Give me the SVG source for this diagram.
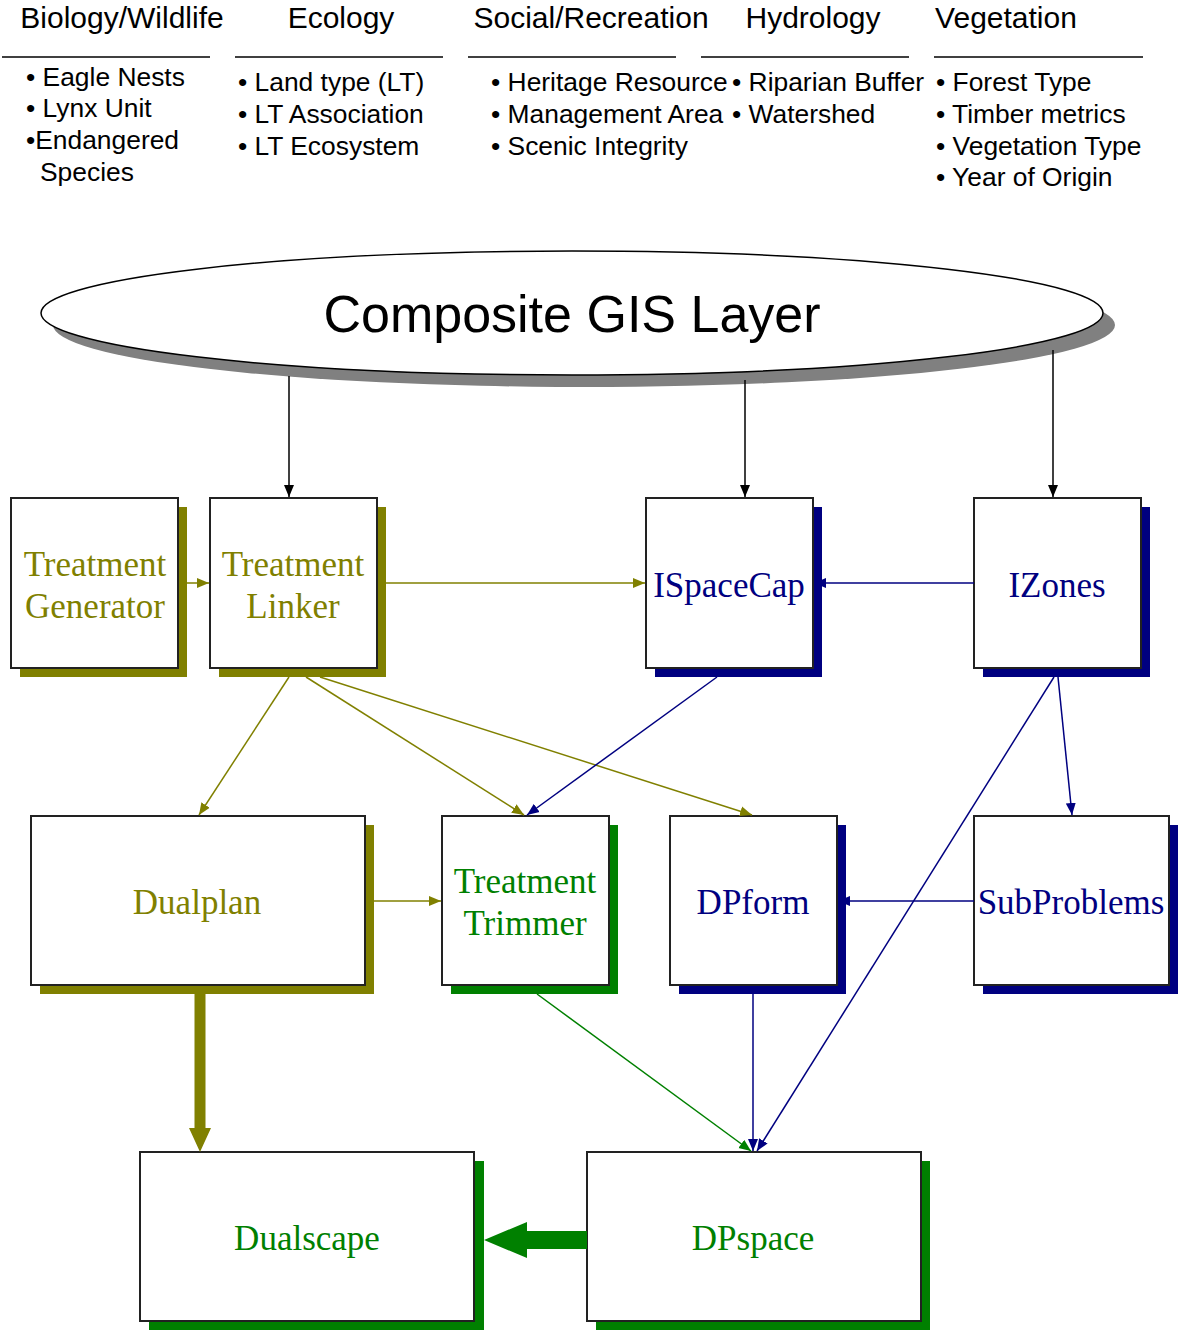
<svg xmlns="http://www.w3.org/2000/svg" width="1181" height="1333" viewBox="0 0 1181 1333">
<defs>
<style>
.hdr{font-family:"Liberation Sans",Arial,sans-serif;font-size:30px;fill:#000;text-anchor:middle}
.item{font-family:"Liberation Sans",Arial,sans-serif;font-size:26.4px;fill:#000}
.rule{stroke:#000;stroke-width:1.5}
.box{fill:#fff;stroke:#222;stroke-width:2}
.lbl{font-family:"Liberation Serif","Times New Roman",serif;font-size:35px;text-anchor:middle}
.olive{fill:#808000}
.navy{fill:#000080}
.green{fill:#008000}
.c{fill:none;stroke-width:1.5}
.ck{stroke:#000}
.co{stroke:#808000}
.cn{stroke:#000080}
.cg{stroke:#008000}
</style>
<marker id="ak" viewBox="0 0 12 10" refX="12" refY="5" markerWidth="12" markerHeight="11" markerUnits="userSpaceOnUse" orient="auto"><path d="M0,0 L12,5 L0,10 z" fill="#000"/></marker>
<marker id="ao" viewBox="0 0 12 10" refX="12" refY="5" markerWidth="12" markerHeight="11" markerUnits="userSpaceOnUse" orient="auto"><path d="M0,0 L12,5 L0,10 z" fill="#808000"/></marker>
<marker id="an" viewBox="0 0 12 10" refX="12" refY="5" markerWidth="12" markerHeight="11" markerUnits="userSpaceOnUse" orient="auto"><path d="M0,0 L12,5 L0,10 z" fill="#000080"/></marker>
<marker id="ag" viewBox="0 0 12 10" refX="12" refY="5" markerWidth="12" markerHeight="11" markerUnits="userSpaceOnUse" orient="auto"><path d="M0,0 L12,5 L0,10 z" fill="#008000"/></marker>
</defs>
<rect width="1181" height="1333" fill="#fff"/>

<g id="categories">
<text class="hdr" x="122" y="28">Biology/Wildlife</text>
<text class="hdr" x="341" y="28">Ecology</text>
<text class="hdr" x="591" y="28">Social/Recreation</text>
<text class="hdr" x="813" y="28">Hydrology</text>
<text class="hdr" x="1006" y="28">Vegetation</text>
<line class="rule" x1="2" y1="57" x2="210" y2="57"/>
<line class="rule" x1="235" y1="57" x2="443" y2="57"/>
<line class="rule" x1="468" y1="57" x2="676" y2="57"/>
<line class="rule" x1="701" y1="57" x2="909" y2="57"/>
<line class="rule" x1="934" y1="57" x2="1143" y2="57"/>
<text class="item" x="26" y="86">• Eagle Nests</text>
<text class="item" x="26" y="117">• Lynx Unit</text>
<text class="item" x="26" y="149">•Endangered</text>
<text class="item" x="40" y="181">Species</text>
<text class="item" x="238" y="91">• Land type (LT)</text>
<text class="item" x="238" y="123">• LT Association</text>
<text class="item" x="238" y="155">• LT Ecosystem</text>
<text class="item" x="491" y="91">• Heritage Resource</text>
<text class="item" x="491" y="123">• Management Area</text>
<text class="item" x="491" y="155">• Scenic Integrity</text>
<text class="item" x="732" y="91">• Riparian Buffer</text>
<text class="item" x="732" y="123">• Watershed</text>
<text class="item" x="936" y="91">• Forest Type</text>
<text class="item" x="936" y="123">• Timber metrics</text>
<text class="item" x="936" y="155">• Vegetation Type</text>
<text class="item" x="936" y="186">• Year of Origin</text>
</g>

<g id="composite">
<ellipse cx="584" cy="325" rx="531" ry="62" fill="#808080"/>
<ellipse cx="572" cy="313" rx="531" ry="62" fill="#fff" stroke="#000" stroke-width="1.5"/>
<text x="572" y="332" font-family="'Liberation Sans',Arial,sans-serif" font-size="52" text-anchor="middle" fill="#000">Composite GIS Layer</text>
</g>

<g id="treatment-generator">
<rect class="olive" x="20" y="507" width="167" height="170"/>
<rect class="box" x="11" y="498" width="167" height="170"/>
<text class="lbl olive" x="95" y="576">Treatment</text>
<text class="lbl olive" x="95" y="618">Generator</text>
</g>
<g id="treatment-linker">
<rect class="olive" x="219" y="507" width="167" height="170"/>
<rect class="box" x="210" y="498" width="167" height="170"/>
<text class="lbl olive" x="293" y="576">Treatment</text>
<text class="lbl olive" x="293" y="618">Linker</text>
</g>
<g id="ispacecap">
<rect class="navy" x="655" y="507" width="167" height="170"/>
<rect class="box" x="646" y="498" width="167" height="170"/>
<text class="lbl navy" x="729" y="597">ISpaceCap</text>
</g>
<g id="izones">
<rect class="navy" x="983" y="507" width="167" height="170"/>
<rect class="box" x="974" y="498" width="167" height="170"/>
<text class="lbl navy" x="1057" y="597">IZones</text>
</g>
<g id="dualplan">
<rect class="olive" x="40" y="825" width="334" height="169"/>
<rect class="box" x="31" y="816" width="334" height="169"/>
<text class="lbl olive" x="197" y="914">Dualplan</text>
</g>
<g id="treatment-trimmer">
<rect class="green" x="451" y="825" width="167" height="169"/>
<rect class="box" x="442" y="816" width="167" height="169"/>
<text class="lbl green" x="525" y="893">Treatment</text>
<text class="lbl green" x="525" y="935">Trimmer</text>
</g>
<g id="dpform">
<rect class="navy" x="679" y="825" width="167" height="169"/>
<rect class="box" x="670" y="816" width="167" height="169"/>
<text class="lbl navy" x="753" y="914">DPform</text>
</g>
<g id="subproblems">
<rect class="navy" x="983" y="825" width="195" height="169"/>
<rect class="box" x="974" y="816" width="195" height="169"/>
<text class="lbl navy" x="1071" y="914" font-size="35.5">SubProblems</text>
</g>
<g id="dualscape">
<rect class="green" x="149" y="1161" width="335" height="169"/>
<rect class="box" x="140" y="1152" width="334" height="169"/>
<text class="lbl green" x="307" y="1250">Dualscape</text>
</g>
<g id="dpspace">
<rect class="green" x="596" y="1161" width="334" height="169"/>
<rect class="box" x="587" y="1152" width="334" height="169"/>
<text class="lbl green" x="753" y="1250">DPspace</text>
</g>

<g id="connectors">
<line class="c ck" x1="289" y1="376" x2="289" y2="497" marker-end="url(#ak)"/>
<line class="c ck" x1="745" y1="380" x2="745" y2="497" marker-end="url(#ak)"/>
<line class="c ck" x1="1053" y1="350" x2="1053" y2="497" marker-end="url(#ak)"/>
<line class="c co" x1="187" y1="583" x2="209" y2="583" marker-end="url(#ao)"/>
<line class="c co" x1="386" y1="583" x2="645" y2="583" marker-end="url(#ao)"/>
<line class="c cn" x1="974" y1="583" x2="814" y2="583" marker-end="url(#an)"/>
<line class="c co" x1="289" y1="677" x2="199" y2="815" marker-end="url(#ao)"/>
<line class="c co" x1="306" y1="677" x2="524" y2="815" marker-end="url(#ao)"/>
<line class="c co" x1="320" y1="677" x2="752" y2="815" marker-end="url(#ao)"/>
<line class="c cn" x1="717" y1="677" x2="527" y2="815" marker-end="url(#an)"/>
<line class="c cn" x1="1058" y1="677" x2="1072" y2="815" marker-end="url(#an)"/>
<line class="c cn" x1="1054" y1="677" x2="757" y2="1151" marker-end="url(#an)"/>
<line class="c co" x1="374" y1="901" x2="441" y2="901" marker-end="url(#ao)"/>
<line class="c cn" x1="974" y1="901" x2="838" y2="901" marker-end="url(#an)"/>
<line class="c cg" x1="537" y1="994" x2="751" y2="1151" marker-end="url(#ag)"/>
<line class="c cn" x1="753" y1="994" x2="753" y2="1151" marker-end="url(#an)"/>
<polygon class="olive" points="194.5,994 205.5,994 205.5,1128 211,1128 200,1152 189,1128 194.5,1128"/>
<polygon class="green" points="587,1231 527,1231 527,1222 484,1240 527,1258 527,1249 587,1249"/>
</g>
</svg>
